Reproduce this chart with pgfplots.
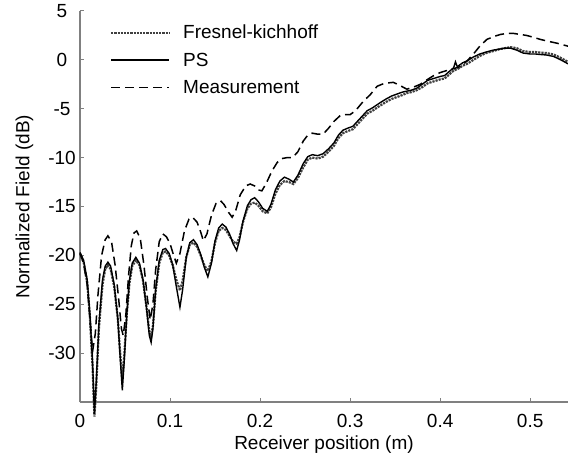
\documentclass[border=0pt]{standalone}
\usepackage{pgfplots}
\pgfplotsset{compat=1.18}
\usepackage{fontspec}
\setmainfont{Liberation Sans}
\begin{document}
\begin{tikzpicture}
\begin{axis}[
  name=ax,
  scale only axis,
  width=488pt, height=391pt,
  xmin=0, xmax=0.542, ymin=-35, ymax=5,
  clip=false,
  axis x line=bottom, axis y line=left,
  axis line style={-, draw=black!50, line width=1.1pt},
  tick style={draw=black!50, line width=1pt},
  tick align=inside, major tick length=4pt,
  xtick={0,0.1,0.2,0.3,0.4,0.5},
  xticklabels={0,0.1,0.2,0.3,0.4,0.5},
  ytick={-30,-25,-20,-15,-10,-5,0,5},
  yticklabels={-30,-25,-20,-15,-10,-5,0,5},
  yticklabel style={anchor=center, xshift=-18pt},
  every tick label/.append style={font=\fontsize{19}{22}\selectfont},
  xticklabel style={yshift=-9pt},
  xlabel={Receiver position (m)},
  ylabel={Normalized Field (dB)},
  label style={font=\fontsize{19}{22}\selectfont},
  xlabel style={yshift=-1pt},
  ylabel style={yshift=8pt},
  legend style={draw=none, fill=none, at={(0.055,0.975)}, anchor=north west,
    font=\fontsize{19}{22}\selectfont, row sep=8.5pt,
    /tikz/every odd column/.append style={column sep=11pt}},
  legend cell align=left,
  legend image code/.code={\draw[#1] (0pt,0pt) -- (58pt,0pt);},
]
\addplot[black!75, densely dotted, line width=2.2pt] coordinates {
(0.000,-19.8)(0.004,-20.7)(0.008,-22.8)(0.011,-26.3)(0.014,-31.5)(0.016,-36.5)(0.018,-33.5)(0.021,-27.5)(0.025,-23)(0.028,-21.4)(0.031,-21.0)(0.034,-21.4)(0.038,-23.2)(0.042,-26.5)(0.045,-30.5)(0.047,-32.6)(0.049,-30.5)(0.052,-26)(0.055,-22.8)(0.058,-21.1)(0.062,-20.5)(0.066,-21.0)(0.070,-22.6)(0.074,-25.4)(0.077,-27.8)(0.079,-28.3)(0.081,-27.2)(0.084,-23.7)(0.088,-20.8)(0.092,-19.7)(0.095,-19.6)(0.099,-20.0)(0.103,-21.0)(0.107,-22.5)(0.111,-23.6)(0.114,-22.6)(0.118,-20.2)(0.122,-18.9)(0.126,-18.7)(0.130,-19.1)(0.134,-20.0)(0.138,-21.0)(0.142,-21.6)(0.146,-20.6)(0.150,-18.7)(0.154,-17.5)(0.158,-17.2)(0.162,-17.4)(0.166,-18.0)(0.170,-18.6)(0.174,-18.8)(0.177,-18.2)(0.181,-16.6)(0.186,-15.2)(0.190,-14.7)(0.194,-14.6)(0.198,-14.9)(0.203,-15.5)(0.208,-15.7)(0.212,-15.1)(0.217,-13.7)(0.222,-12.8)(0.227,-12.4)(0.232,-12.5)(0.237,-12.7)(0.242,-12.1)(0.248,-11.0)(0.253,-10.2)(0.258,-10.0)(0.264,-10.1)(0.270,-9.9)(0.276,-9.4)(0.282,-8.8)(0.287,-8.0)(0.292,-7.5)(0.297,-7.3)(0.303,-7.1)(0.308,-6.6)(0.313,-6.1)(0.319,-5.5)(0.325,-5.2)(0.333,-4.7)(0.340,-4.3)(0.346,-4.0)(0.352,-3.8)(0.358,-3.6)(0.363,-3.4)(0.368,-3.3)(0.374,-3.1)(0.380,-2.8)(0.386,-2.4)(0.393,-2.2)(0.400,-2.0)(0.405,-1.9)(0.410,-1.5)(0.415,-1.1)(0.420,-0.9)(0.425,-0.6)(0.430,-0.4)(0.437,0.0)(0.444,0.4)(0.451,0.7)(0.459,0.9)(0.466,1.1)(0.472,1.2)(0.478,1.3)(0.485,1.2)(0.492,0.9)(0.500,0.8)(0.506,0.8)(0.511,0.75)(0.518,0.7)(0.526,0.55)(0.534,0.2)(0.542,-0.2)
};
\addlegendentry{Fresnel-kichhoff}
\addplot[black, line width=1.4pt] coordinates {
(0.000,-19.7)(0.004,-20.5)(0.008,-22.5)(0.011,-26)(0.014,-31)(0.016,-36.2)(0.018,-33)(0.021,-27)(0.025,-22.5)(0.028,-21.1)(0.031,-20.7)(0.034,-21.1)(0.038,-23)(0.042,-26.5)(0.045,-31)(0.047,-33.8)(0.049,-31)(0.052,-26)(0.055,-22.5)(0.058,-20.8)(0.062,-20.2)(0.066,-20.8)(0.070,-22.5)(0.074,-25.5)(0.077,-28.2)(0.079,-28.9)(0.081,-27.5)(0.084,-23.5)(0.088,-20.5)(0.092,-19.4)(0.095,-19.3)(0.099,-19.8)(0.103,-21)(0.107,-23.2)(0.111,-25.3)(0.114,-23.5)(0.118,-20.2)(0.122,-18.7)(0.126,-18.4)(0.130,-18.9)(0.134,-19.9)(0.138,-21.2)(0.142,-22.2)(0.146,-20.8)(0.150,-18.5)(0.154,-17.2)(0.158,-16.8)(0.162,-17.1)(0.166,-17.8)(0.170,-18.8)(0.174,-19.5)(0.177,-18.5)(0.181,-16.5)(0.186,-14.9)(0.190,-14.3)(0.194,-14.1)(0.198,-14.5)(0.203,-15.2)(0.208,-15.5)(0.212,-14.8)(0.217,-13.3)(0.222,-12.4)(0.227,-12.0)(0.232,-12.2)(0.237,-12.5)(0.242,-11.8)(0.248,-10.6)(0.253,-9.9)(0.258,-9.7)(0.264,-9.8)(0.270,-9.6)(0.276,-9.1)(0.282,-8.5)(0.287,-7.7)(0.292,-7.2)(0.297,-7.0)(0.303,-6.8)(0.308,-6.3)(0.313,-5.8)(0.319,-5.2)(0.325,-4.9)(0.333,-4.4)(0.340,-4.0)(0.346,-3.7)(0.352,-3.5)(0.358,-3.3)(0.363,-3.2)(0.368,-3.1)(0.374,-2.9)(0.380,-2.5)(0.386,-2.1)(0.393,-1.9)(0.400,-1.7)(0.405,-1.6)(0.410,-1.2)(0.415,-0.8)(0.417,-0.2)(0.419,-0.7)(0.425,-0.3)(0.430,-0.1)(0.437,0.3)(0.444,0.6)(0.451,0.8)(0.459,1.0)(0.466,1.1)(0.472,1.2)(0.478,1.2)(0.485,1.0)(0.492,0.7)(0.500,0.6)(0.506,0.6)(0.511,0.55)(0.518,0.5)(0.526,0.35)(0.534,0.0)(0.542,-0.4)
};
\addlegendentry{PS}
\addplot[black, line width=1.5pt, dash pattern=on 9pt off 5pt] coordinates {
(0.000,-19.8)(0.004,-20.8)(0.008,-23)(0.011,-26.5)(0.014,-29.8)(0.017,-28)(0.020,-24)(0.024,-20)(0.028,-18.4)(0.031,-18.0)(0.035,-18.6)(0.039,-21)(0.043,-24.5)(0.046,-27.5)(0.048,-28.2)(0.051,-26)(0.054,-22)(0.057,-19)(0.060,-17.7)(0.063,-17.5)(0.067,-18.3)(0.071,-21)(0.075,-24.5)(0.078,-26.6)(0.081,-25)(0.084,-21.5)(0.088,-18.6)(0.092,-17.8)(0.096,-18.1)(0.100,-18.8)(0.104,-20)(0.107,-20.8)(0.111,-19.8)(0.116,-17.5)(0.121,-16.3)(0.125,-16.1)(0.130,-16.6)(0.134,-17.6)(0.137,-18.5)(0.141,-17.8)(0.146,-15.9)(0.151,-14.7)(0.156,-14.4)(0.160,-14.8)(0.165,-15.6)(0.169,-16.1)(0.173,-15.4)(0.178,-13.8)(0.184,-12.9)(0.189,-12.7)(0.194,-12.9)(0.198,-13.3)(0.202,-13.4)(0.207,-12.6)(0.213,-11.4)(0.219,-10.5)(0.224,-10.1)(0.230,-10.0)(0.236,-10.0)(0.242,-9.4)(0.248,-8.3)(0.253,-7.7)(0.258,-7.5)(0.264,-7.6)(0.270,-7.6)(0.276,-7.0)(0.282,-6.3)(0.289,-5.7)(0.295,-5.6)(0.300,-5.6)(0.306,-5.2)(0.315,-4.2)(0.322,-3.6)(0.330,-2.7)(0.338,-2.4)(0.348,-2.3)(0.355,-2.6)(0.363,-3.0)(0.370,-2.8)(0.378,-2.5)(0.386,-2.0)(0.393,-1.6)(0.400,-1.3)(0.407,-1.1)(0.415,-0.9)(0.422,-0.7)(0.430,-0.1)(0.437,0.6)(0.444,1.4)(0.452,2.1)(0.460,2.4)(0.467,2.6)(0.474,2.7)(0.482,2.7)(0.489,2.6)(0.496,2.5)(0.504,2.3)(0.511,2.1)(0.520,1.9)(0.530,1.7)(0.542,1.4)
};
\addlegendentry{Measurement}
\end{axis}
\pgfresetboundingbox
\path[use as bounding box] ([xshift=-80pt,yshift=-57pt]ax.south west) rectangle ([yshift=11pt]ax.north east);
\end{tikzpicture}
\end{document}
